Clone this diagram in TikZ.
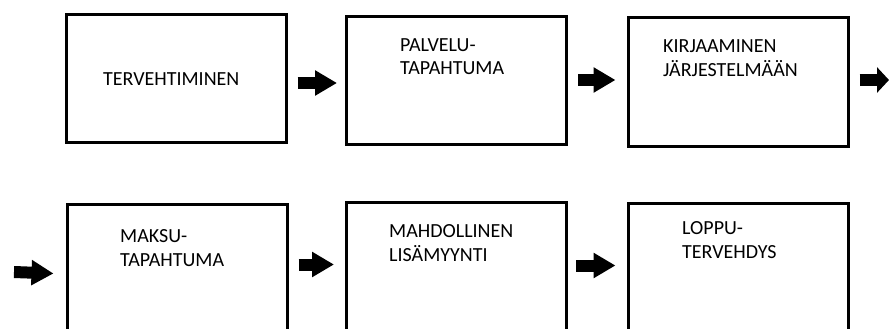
\documentclass[tikz,border=0pt]{standalone}
\usepackage{fontspec}
\setmainfont{Carlito}
\usetikzlibrary{arrows.meta}
\begin{document}
\begin{tikzpicture}[x=1pt,y=-1pt,
  stepbox/.style={draw=black, line width=3pt, fill=white, inner sep=0pt,
    minimum width=220pt},
  toprow/.style={stepbox, minimum height=128pt},
  bottomrow/.style={stepbox, anchor=north, minimum height=135pt},
  steptext/.style={anchor=base west, inner sep=0pt, align=left,
    text=black, font=\fontsize{20}{24}\selectfont},
  blockarrow/.style={line width=12pt, -{Triangle[length=22pt, width=24pt]}},
  shortarrow/.style={line width=12pt, -{Triangle[length=12pt, width=25pt]}}]

% page frame and clipping (the lower boxes run past the bottom edge)
\path[use as bounding box, clip] (0,0) rectangle (892,329);
\fill[white] (0,0) rectangle (892,329);

% upper row of steps
\node[toprow] (b1) at (176,78.5) {};
\node[toprow] (b2) at (456.5,80.5) {};
\node[toprow] (b3) at (738,82) {};

% lower row of steps
\node[bottomrow] (b4) at (177,203) {};
\node[bottomrow] (b5) at (456.5,201) {};
\node[bottomrow] (b6) at (738,202) {};

% step labels
\node[steptext] (t1) at (103,85) {TERVEHTIMINEN};
\node[steptext] (t2) at (400,75) {PALVELU-\\TAPAHTUMA};
\node[steptext] (t3) at (663,77) {KIRJAAMINEN\\JÄRJESTELMÄÄN};
\node[steptext] (t4) at (120,266) {MAKSU-\\TAPAHTUMA};
\node[steptext] (t5) at (389,261) {MAHDOLLINEN\\LISÄMYYNTI};
\node[steptext] (t6) at (682,258) {LOPPU-\\TERVEHDYS};

% free ends of the wrap-around arrows
\coordinate (rowend) at (889,80);
\coordinate (rowstart) at (14,272);

% block arrows between the steps
\draw[blockarrow] ([shift={(10,4.5)}]b1.east) -- ([shift={(-8,2.5)}]b2.west);
\draw[blockarrow] ([shift={(10,-0.5)}]b2.east) -- ([shift={(-11,-2)}]b3.west);
\draw[shortarrow] ([shift={(10,-2)}]b3.east) -- (rowend);
\draw[blockarrow] (rowstart) -- ([shift={(-12,1.5)}]b4.west);
\draw[blockarrow] ([shift={(10,-7.5)}]b4.east) -- ([shift={(-11,-5.5)}]b5.west);
\draw[blockarrow] ([shift={(8,-4.5)}]b5.east) -- ([shift={(-11,-5.5)}]b6.west);
\end{tikzpicture}
\end{document}
